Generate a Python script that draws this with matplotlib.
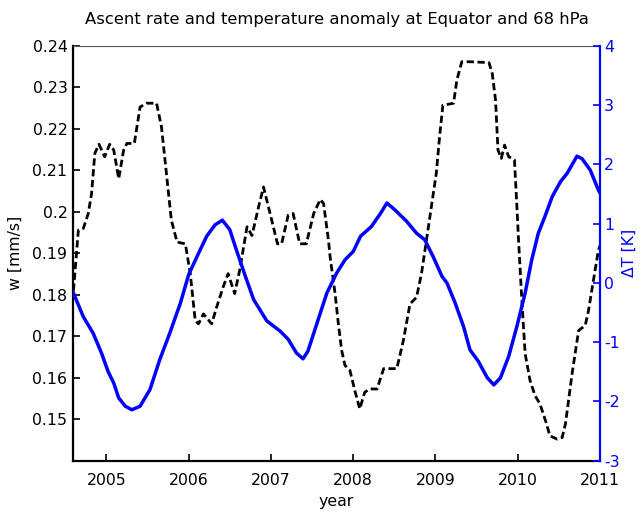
import matplotlib
matplotlib.use("Agg")
import matplotlib.pyplot as plt

# ascent rate w (black dashed)
w_year = [2004.60, 2004.66, 2004.72, 2004.78, 2004.82, 2004.86, 2004.91, 2004.98,
          2005.04, 2005.09, 2005.15, 2005.21, 2005.25, 2005.34, 2005.41, 2005.49,
          2005.61, 2005.67, 2005.73, 2005.79, 2005.86, 2005.96, 2006.02, 2006.08,
          2006.12, 2006.18, 2006.28, 2006.34, 2006.42, 2006.48, 2006.56, 2006.62,
          2006.71, 2006.77, 2006.85, 2006.91, 2006.99, 2007.08, 2007.13, 2007.21,
          2007.27, 2007.35, 2007.43, 2007.52, 2007.60, 2007.64, 2007.70, 2007.72,
          2007.78, 2007.82, 2007.86, 2007.90, 2007.96, 2008.02, 2008.08, 2008.14,
          2008.20, 2008.29, 2008.37, 2008.53, 2008.61, 2008.69, 2008.77, 2008.83,
          2008.89, 2008.95, 2009.01, 2009.05, 2009.09, 2009.22, 2009.26, 2009.32,
          2009.42, 2009.65, 2009.69, 2009.73, 2009.76, 2009.80, 2009.84, 2009.89,
          2009.96, 2009.99, 2010.01, 2010.05, 2010.09, 2010.15, 2010.21, 2010.27,
          2010.35, 2010.39, 2010.48, 2010.54, 2010.58, 2010.66, 2010.74, 2010.82,
          2010.86, 2010.92, 2010.98, 2011.00]
w_val = [0.1810, 0.1956, 0.1960, 0.1996, 0.2044, 0.2141, 0.2163, 0.2133,
         0.2163, 0.2149, 0.2080, 0.2149, 0.2165, 0.2165, 0.2253, 0.2262,
         0.2262, 0.2205, 0.2093, 0.1980, 0.1927, 0.1923, 0.1851, 0.1738,
         0.1730, 0.1754, 0.1730, 0.1770, 0.1819, 0.1851, 0.1803, 0.1859,
         0.1964, 0.1943, 0.2012, 0.2060, 0.1996, 0.1923, 0.1923, 0.1992,
         0.1996, 0.1923, 0.1923, 0.1996, 0.2030, 0.2020, 0.1931, 0.1891,
         0.1803, 0.1730, 0.1666, 0.1630, 0.1618, 0.1569, 0.1525, 0.1565,
         0.1573, 0.1573, 0.1622, 0.1622, 0.1690, 0.1778, 0.1794, 0.1851,
         0.1931, 0.2012, 0.2093, 0.2181, 0.2257, 0.2262, 0.2318, 0.2362,
         0.2362, 0.2360, 0.2334, 0.2270, 0.2149, 0.2129, 0.2161, 0.2133,
         0.2125, 0.2012, 0.1931, 0.1786, 0.1658, 0.1593, 0.1557, 0.1537,
         0.1489, 0.1460, 0.1452, 0.1456, 0.1489, 0.1609, 0.1714, 0.1726,
         0.1762, 0.1835, 0.1907, 0.1919]

# temperature anomaly dT (blue solid)
t_year = [2004.60, 2004.72, 2004.84, 2004.94, 2005.02, 2005.09, 2005.15, 2005.23,
          2005.31, 2005.41, 2005.53, 2005.65, 2005.77, 2005.90, 2006.00, 2006.12,
          2006.22, 2006.32, 2006.41, 2006.50, 2006.58, 2006.69, 2006.79, 2006.95,
          2007.11, 2007.21, 2007.31, 2007.39, 2007.45, 2007.56, 2007.68, 2007.80,
          2007.90, 2008.00, 2008.09, 2008.22, 2008.33, 2008.41, 2008.51, 2008.65,
          2008.77, 2008.87, 2008.97, 2009.08, 2009.14, 2009.24, 2009.34, 2009.42,
          2009.52, 2009.63, 2009.71, 2009.79, 2009.89, 2009.99, 2010.09, 2010.17,
          2010.25, 2010.33, 2010.42, 2010.52, 2010.60, 2010.72, 2010.78, 2010.88,
          2010.98, 2011.00]
t_val = [-0.17, -0.57, -0.85, -1.18, -1.49, -1.69, -1.94, -2.08,
         -2.14, -2.08, -1.80, -1.29, -0.85, -0.34, 0.14, 0.50,
         0.79, 0.98, 1.06, 0.90, 0.56, 0.11, -0.28, -0.64,
         -0.81, -0.95, -1.18, -1.28, -1.15, -0.68, -0.17, 0.17,
         0.39, 0.53, 0.79, 0.95, 1.17, 1.35, 1.23, 1.04,
         0.84, 0.73, 0.45, 0.11, 0.00, -0.34, -0.73, -1.13,
         -1.32, -1.60, -1.72, -1.60, -1.24, -0.73, -0.17, 0.39,
         0.84, 1.12, 1.46, 1.71, 1.85, 2.14, 2.10, 1.91,
         1.57, 1.52]

x_ticks = [2005, 2006, 2007, 2008, 2009, 2010, 2011]
w_ticks = [0.15, 0.16, 0.17, 0.18, 0.19, 0.20, 0.21, 0.22, 0.23, 0.24]
w_tick_labels = ["0.15", "0.16", "0.17", "0.18", "0.19", "0.2", "0.21", "0.22", "0.23", "0.24"]
t_ticks = [-3, -2, -1, 0, 1, 2, 3, 4]

BLUE = "#0000ff"
plt.rcParams["font.family"] = ["DejaVu Sans"]
plt.rcParams["axes.unicode_minus"] = False

fig = plt.figure(figsize=(6.44, 5.11), dpi=100, facecolor="white")
ax = fig.add_axes([0.1134, 0.0984, 0.8183, 0.8116])
ax2 = ax.twinx()

ax.plot(w_year, w_val, color="black", linewidth=2.0, linestyle=(0, (2.6, 1.3)), zorder=3)
ax2.plot(t_year, t_val, color=BLUE, linewidth=2.5, zorder=2)

ax.set_xlim(2004.595, 2011.0)
ax.set_ylim(0.14, 0.24)
ax2.set_ylim(-3, 4)

ax.set_xticks(x_ticks)
ax.set_xticklabels([str(y) for y in x_ticks])
ax.set_yticks(w_ticks)
ax.set_yticklabels(w_tick_labels)
ax2.set_yticks(t_ticks)

ax.tick_params(axis="both", direction="in", length=5, width=1.2, labelsize=11.3, colors="black")
ax.tick_params(axis="x", pad=9)
ax.tick_params(axis="y", pad=4)
ax2.tick_params(axis="y", direction="in", length=5, width=1.2, labelsize=11.3,
                colors=BLUE, pad=3)

ax.spines["left"].set_linewidth(1.6)
ax.spines["bottom"].set_linewidth(1.6)
ax.spines["top"].set_color("#555555")
ax.spines["top"].set_linewidth(0.8)
ax.spines["right"].set_visible(False)
for side in ("left", "top", "bottom"):
    ax2.spines[side].set_visible(False)
ax2.spines["right"].set_color(BLUE)
ax2.spines["right"].set_linewidth(1.6)

ax.set_xlabel("year", fontsize=11.3, labelpad=4)
ax.set_ylabel("w [mm/s]", fontsize=11.3, labelpad=7)
ax2.set_ylabel("\u0394T [K]", fontsize=11.3, color=BLUE, labelpad=1)
ax.set_title("Ascent rate and temperature anomaly at Equator and 68 hPa", fontsize=11.8, pad=16)

fig.savefig("out.png", dpi=100, facecolor="white")
plt.close(fig)
